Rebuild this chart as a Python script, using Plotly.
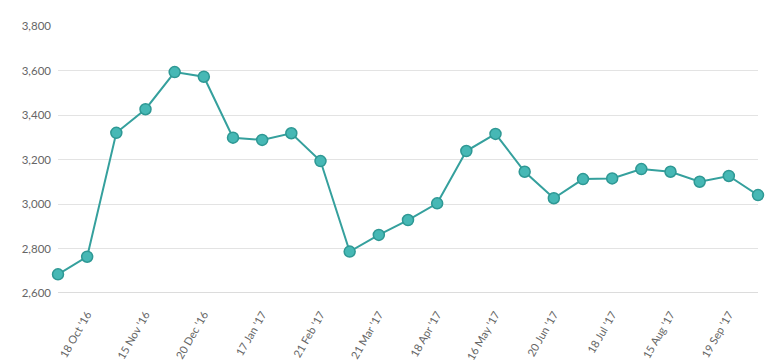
import plotly.graph_objects as go

point_index = list(range(25))
values = [2684, 2763, 3320, 3426, 3593, 3572, 3298, 3288, 3318, 3193,
          2786, 2861, 2928, 3003, 3238, 3315, 3145, 3026, 3112, 3115,
          3157, 3145, 3100, 3126, 3040]
tick_positions = [1, 3, 5, 7, 9, 11, 13, 15, 17, 19, 21, 23]
tick_labels = ["18 Oct '16", "15 Nov '16", "20 Dec '16", "17 Jan '17", "21 Feb '17",
               "21 Mar '17", "18 Apr '17", "16 May '17", "20 Jun '17", "18 Jul '17",
               "15 Aug '17", "19 Sep '17"]
y_ticks = [2600, 2800, 3000, 3200, 3400, 3600, 3800]

fig = go.Figure()
fig.add_trace(go.Scatter(
    x=point_index, y=values, mode="lines+markers",
    line=dict(color="#35a09d", width=2),
    marker=dict(size=11, color="#46b8b5", line=dict(color="#2e9894", width=1.5)),
    cliponaxis=False, hoverinfo="x+y",
))

fig.update_layout(
    width=761, height=354,
    margin=dict(l=50, r=11, t=18, b=69),
    paper_bgcolor="white", plot_bgcolor="white",
    showlegend=False,
    font=dict(family="Lato, sans-serif", size=11, color="#666666"),
    xaxis=dict(
        range=[0, 24], tickmode="array", tickvals=tick_positions, ticktext=tick_labels,
        tickangle=-60, showgrid=False, zeroline=False, showline=False,
        ticks="", ticklabelstandoff=12, automargin=False,
        tickfont=dict(size=11, color="#666666"),
    ),
    yaxis=dict(
        range=[2600, 3800], tickmode="array", tickvals=y_ticks,
        ticktext=[f"{v:,}" for v in y_ticks],
        showgrid=True, gridcolor="#e3e3e3", gridwidth=1, zeroline=False,
        showline=False, ticks="", ticklabelstandoff=6, automargin=False,
        tickfont=dict(size=11.5, color="#666666"),
    ),
    shapes=[dict(type="line", xref="paper", yref="y", x0=0, x1=1, y0=2600, y1=2600,
                 line=dict(color="#dcdcdc", width=2), layer="below")],
)

fig.write_html("out.html")
